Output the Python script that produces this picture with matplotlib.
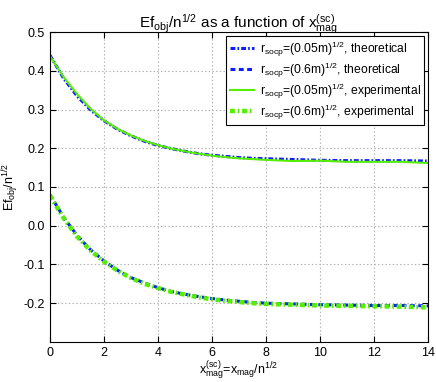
import matplotlib.pyplot as plt
import numpy as np

plt.rcParams['font.family'] = ['Liberation Sans', 'DejaVu Sans']
plt.rcParams['mathtext.fontset'] = 'custom'
plt.rcParams['mathtext.rm'] = 'Liberation Sans'
plt.rcParams['mathtext.it'] = 'Liberation Sans'
plt.rcParams['mathtext.bf'] = 'Liberation Sans:bold'
plt.rcParams['axes.unicode_minus'] = False
plt.rcParams['lines.scale_dashes'] = False

# x_mag^(sc) sample points
x = [0, 0.5, 1, 1.5, 2, 2.5, 3, 3.5, 4, 4.5, 5, 5.5, 6, 6.5, 7, 7.5, 8,
     9, 10, 11, 12, 13, 14]

# r_socp = (0.05m)^1/2
theo_005 = [0.440, 0.381, 0.335, 0.299, 0.271, 0.249, 0.232, 0.218, 0.207,
            0.199, 0.192, 0.186, 0.182, 0.179, 0.176, 0.174, 0.173,
            0.171, 0.169, 0.168, 0.168, 0.168, 0.167]
exp_005 = [0.438, 0.384, 0.340, 0.302, 0.272, 0.250, 0.233, 0.219, 0.208,
           0.199, 0.192, 0.186, 0.181, 0.177, 0.174, 0.172, 0.170,
           0.167, 0.168, 0.165, 0.165, 0.165, 0.162]

# r_socp = (0.6m)^1/2
theo_06 = [0.080, 0.022, -0.025, -0.062, -0.091, -0.115, -0.134, -0.148,
           -0.160, -0.170, -0.177, -0.183, -0.188, -0.192, -0.195, -0.198,
           -0.200, -0.202, -0.204, -0.205, -0.206, -0.206, -0.207]
exp_06 = [0.078, 0.020, -0.028, -0.064, -0.093, -0.116, -0.135, -0.150,
          -0.161, -0.171, -0.178, -0.185, -0.190, -0.194, -0.197, -0.200,
          -0.202, -0.204, -0.206, -0.207, -0.208, -0.209, -0.211]

blue = '#0a1eff'
green = '#55ee00'

fig = plt.figure(figsize=(4.36, 3.82), dpi=100)
ax = fig.add_axes([0.1147, 0.105, 0.867, 0.811])

ax.plot(x, theo_005, color=blue, linestyle=(0, (3.5, 1.5, 1.2, 1.5)), lw=2.2,
        label=r'r$_{socp}$=(0.05m)$^{1/2}$, theoretical')
ax.plot(x, theo_06, color=blue, linestyle=(0, (3.5, 2.5)), lw=2.2,
        label=r'r$_{socp}$=(0.6m)$^{1/2}$, theoretical')
ax.plot(x, exp_005, color=green, linestyle='-', lw=1.5,
        label=r'r$_{socp}$=(0.05m)$^{1/2}$, experimental')
ax.plot(x, exp_06, color=green, linestyle=(0, (3.5, 2, 1.2, 2)), lw=3.2,
        label=r'r$_{socp}$=(0.6m)$^{1/2}$, experimental')

ax.set_xlim(0, 14)
ax.set_ylim(-0.3, 0.5)
ax.set_xticks(np.arange(0, 15, 2))
ax.set_yticks([-0.2, -0.1, 0, 0.1, 0.2, 0.3, 0.4, 0.5])
ax.tick_params(direction='in', top=True, right=True, labelsize=9, length=4)
ax.grid(True, linestyle=':', color='#b0b0b0', lw=0.8)

ax.set_title(r'Ef$_{obj}$/n$^{1/2}$ as a function of x$^{(sc)}_{mag}$', fontsize=11, pad=3)
ax.set_xlabel(r'x$^{(sc)}_{mag}$=x$_{mag}$/n$^{1/2}$', fontsize=9, labelpad=1)
ax.set_ylabel(r'Ef$_{obj}$/n$^{1/2}$', fontsize=9, labelpad=2)

leg = ax.legend(loc='upper right', fontsize=8.7, handlelength=2, fancybox=False,
                edgecolor='black', framealpha=1, borderpad=0.3, labelspacing=0.15,
                handletextpad=0.5, borderaxespad=0.3)
leg.get_frame().set_linewidth(0.8)

plt.savefig('out.png', dpi=100)
